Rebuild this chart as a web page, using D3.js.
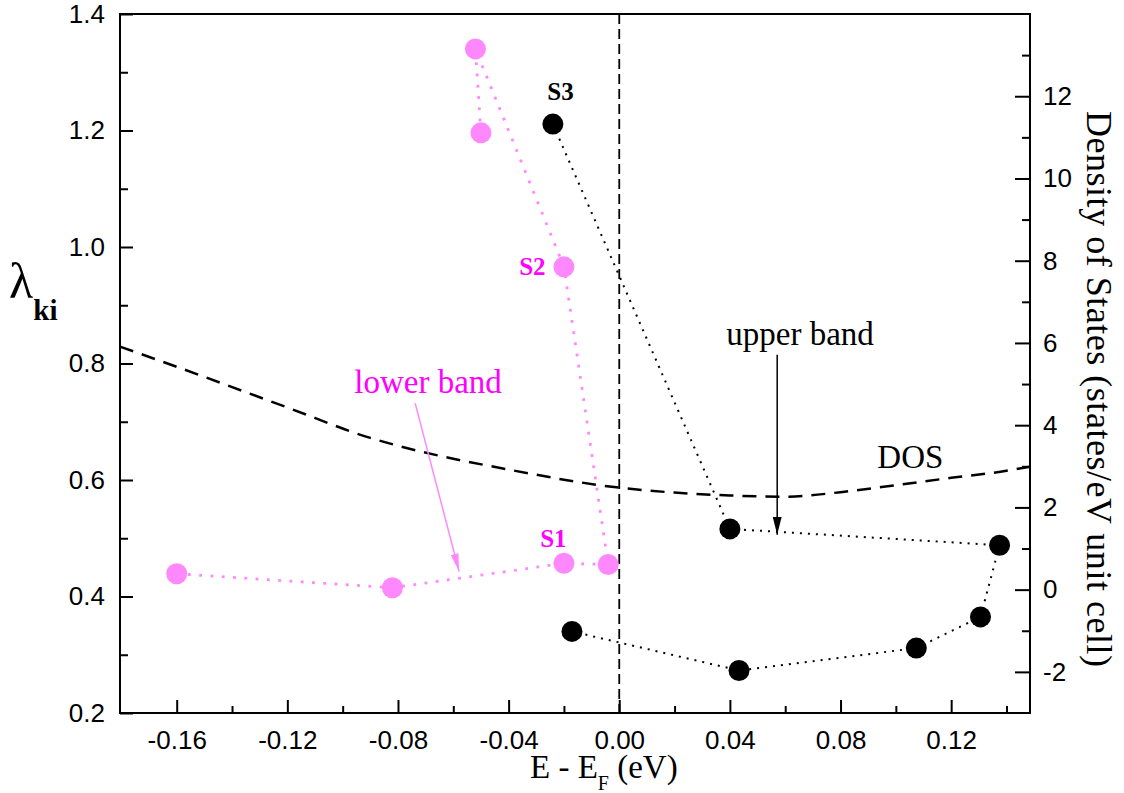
<!DOCTYPE html>
<html>
<head>
<meta charset="utf-8">
<script src="https://cdn.jsdelivr.net/npm/d3@7"></script>
<style>
  html, body { margin: 0; padding: 0; background: #fff; }
  svg { display: block; }
  .tick text { font-family: "Liberation Sans", Arial, sans-serif; font-size: 26px; fill: #000; }
  .serif { font-family: "Liberation Serif", "Times New Roman", serif; }
</style>
</head>
<body>
<svg id="chart" width="1124" height="793"></svg>
<script>
// ---------------- data ----------------
// lower band (pink) points, in path order
const lowerE = [-0.160, -0.082, -0.020, -0.004, -0.020, -0.052, -0.050];
const lowerLambda = [0.439, 0.415, 0.457, 0.455, 0.966, 1.340, 1.196];
// upper band (black) points, in path order
const upperE = [-0.024, 0.040, 0.1375, 0.1306, 0.1074, 0.0433, -0.0171];
const upperLambda = [1.211, 0.516, 0.488, 0.365, 0.3115, 0.273, 0.340];
// density of states curve (right axis)
const dosE = [-0.1805, -0.16, -0.12, -0.09, -0.08, -0.04, 0.00, 0.02, 0.04, 0.06, 0.08, 0.10, 0.12, 0.14, 0.1485];
const dosValue = [5.91, 5.42, 4.43, 3.69, 3.50, 2.92, 2.48, 2.36, 2.29, 2.26, 2.37, 2.54, 2.72, 2.89, 2.99];
// ticks
const xMajorTicks = [-0.16, -0.12, -0.08, -0.04, 0.00, 0.04, 0.08, 0.12];
const xMinorTicks = [-0.14, -0.10, -0.06, -0.02, 0.02, 0.06, 0.10, 0.14];
const yLeftMajorTicks = [0.2, 0.4, 0.6, 0.8, 1.0, 1.2, 1.4];
const yLeftMinorTicks = [0.3, 0.5, 0.7, 0.9, 1.1, 1.3];
const yRightMajorTicks = [-2, 0, 2, 4, 6, 8, 10, 12];
const yRightMinorTicks = [-1, 1, 3, 5, 7, 9, 11, 13];

// ---------------- layout ----------------
const svg = d3.select("#chart");
const L = 120, R = 1030, T = 14, B = 713;
const x = d3.scaleLinear().domain([-0.1805, 0.1485]).range([L, R]);
const yL = d3.scaleLinear().domain([0.2, 1.4]).range([B, T]);
const yR = d3.scaleLinear().domain([-3, 14]).range([B, T]);

const PINK = "#ff88ff", MAGENTA = "#ff00ff";

// defs: arrowheads
const defs = svg.append("defs");
defs.append("marker").attr("id", "arrPink").attr("viewBox", "0 -5 18 10")
  .attr("refX", 18).attr("refY", 0).attr("markerWidth", 18).attr("markerHeight", 10)
  .attr("markerUnits", "userSpaceOnUse").attr("orient", "auto")
  .append("path").attr("d", "M0,-4L18,0L0,4Z").attr("fill", PINK);
defs.append("marker").attr("id", "arrBlack").attr("viewBox", "0 -5 18 10")
  .attr("refX", 18).attr("refY", 0).attr("markerWidth", 18).attr("markerHeight", 10)
  .attr("markerUnits", "userSpaceOnUse").attr("orient", "auto")
  .append("path").attr("d", "M0,-4.5L18,0L0,4.5Z").attr("fill", "#000");

// ---------------- axes ----------------
function styleAxis(g) {
  g.select(".domain").remove();
  g.selectAll(".tick line").attr("stroke", "#000").attr("stroke-width", 2);
}
// bottom
svg.append("g").attr("transform", `translate(0,${B})`)
  .call(d3.axisBottom(x).tickValues(xMajorTicks).tickSize(-13).tickPadding(18)
    .tickFormat(d => d.toFixed(2)))
  .call(styleAxis);
svg.append("g").attr("transform", `translate(0,${B})`)
  .call(d3.axisBottom(x).tickValues(xMinorTicks).tickSize(-7).tickFormat(""))
  .call(styleAxis);
// left
svg.append("g").attr("transform", `translate(${L},0)`)
  .call(d3.axisLeft(yL).tickValues(yLeftMajorTicks).tickSize(-13).tickPadding(15)
    .tickFormat(d => d.toFixed(1)))
  .call(styleAxis);
svg.append("g").attr("transform", `translate(${L},0)`)
  .call(d3.axisLeft(yL).tickValues(yLeftMinorTicks).tickSize(-8).tickFormat(""))
  .call(styleAxis);
// right
svg.append("g").attr("transform", `translate(${R},0)`)
  .call(d3.axisRight(yR).tickValues(yRightMajorTicks).tickSize(-15).tickPadding(13)
    .tickFormat(d => String(d)))
  .call(styleAxis);
svg.append("g").attr("transform", `translate(${R},0)`)
  .call(d3.axisRight(yR).tickValues(yRightMinorTicks).tickSize(-8).tickFormat(""))
  .call(styleAxis);

// frame
svg.append("rect").attr("x", L).attr("y", T).attr("width", R - L).attr("height", B - T)
  .attr("fill", "none").attr("stroke", "#000").attr("stroke-width", 2);

// vertical dashed line at E = EF
svg.append("line").attr("x1", x(0)).attr("x2", x(0)).attr("y1", T).attr("y2", B)
  .attr("stroke", "#000").attr("stroke-width", 1.8).attr("stroke-dasharray", "10,5");

// DOS curve
const dosData = dosE.map((e, i) => [e, dosValue[i]]);
svg.append("path").datum(dosData)
  .attr("d", d3.line().x(d => x(d[0])).y(d => yR(d[1])).curve(d3.curveMonotoneX))
  .attr("fill", "none").attr("stroke", "#000").attr("stroke-width", 2.5)
  .attr("stroke-dasharray", "14,9");

// lower band
const lowerData = lowerE.map((e, i) => [e, lowerLambda[i]]);
svg.append("path").datum(lowerData)
  .attr("d", d3.line().x(d => x(d[0])).y(d => yL(d[1])))
  .attr("fill", "none").attr("stroke", PINK).attr("stroke-width", 2.8)
  .attr("stroke-dasharray", "2.8,8.5");
// upper band
const upperData = upperE.map((e, i) => [e, upperLambda[i]]);
svg.append("path").datum(upperData)
  .attr("d", d3.line().x(d => x(d[0])).y(d => yL(d[1])))
  .attr("fill", "none").attr("stroke", "#000").attr("stroke-width", 2)
  .attr("stroke-dasharray", "2,6");

svg.append("g").selectAll("circle").data(lowerData).join("circle")
  .attr("cx", d => x(d[0])).attr("cy", d => yL(d[1])).attr("r", 10.5).attr("fill", PINK);
svg.append("g").selectAll("circle").data(upperData).join("circle")
  .attr("cx", d => x(d[0])).attr("cy", d => yL(d[1])).attr("r", 10.5).attr("fill", "#000");

// arrows (data coordinates)
svg.append("line")
  .attr("x1", x(-0.0738)).attr("y1", yL(0.732)).attr("x2", x(-0.0579)).attr("y2", yL(0.443))
  .attr("stroke", PINK).attr("stroke-width", 1.5).attr("marker-end", "url(#arrPink)");
svg.append("line")
  .attr("x1", x(0.0571)).attr("y1", yL(0.815)).attr("x2", x(0.0571)).attr("y2", yL(0.506))
  .attr("stroke", "#000").attr("stroke-width", 1.5).attr("marker-end", "url(#arrBlack)");

// annotations
const notes = [
  { t: "S3", e: -0.026, v: 1.252, c: "#000", w: "bold", s: 25 },
  { t: "S2", e: -0.0362, v: 0.952, c: MAGENTA, w: "bold", s: 25 },
  { t: "S1", e: -0.0286, v: 0.485, c: MAGENTA, w: "bold", s: 25 },
  { t: "lower band", e: -0.0958, v: 0.749, c: MAGENTA, w: "normal", s: 33 },
  { t: "upper band", e: 0.0387, v: 0.832, c: "#000", w: "normal", s: 33 },
  { t: "DOS", e: 0.0933, v: 0.621, c: "#000", w: "normal", s: 33 }
];
svg.append("g").selectAll("text").data(notes).join("text")
  .attr("class", "serif")
  .attr("x", d => x(d.e)).attr("y", d => yL(d.v))
  .attr("fill", d => d.c).attr("font-weight", d => d.w).attr("font-size", d => d.s)
  .text(d => d.t);

// axis titles
const xt = svg.append("text").attr("class", "serif").attr("font-size", 33)
  .attr("x", 530).attr("y", 778);
xt.append("tspan").text("E - E");
xt.append("tspan").attr("font-size", 20).attr("dy", 12).text("F");
xt.append("tspan").attr("dy", -12).text(" (eV)");

const yt = svg.append("text").attr("class", "serif").attr("font-size", 50)
  .attr("x", 9).attr("y", 298);
yt.append("tspan").text("λ");
yt.append("tspan").attr("font-size", 29).attr("font-weight", "bold").attr("dy", 22).text("ki");

svg.append("text").attr("class", "serif").attr("font-size", 36)
  .attr("text-anchor", "middle")
  .attr("textLength", 556).attr("lengthAdjust", "spacing")
  .attr("transform", "translate(1087,389) rotate(90)")
  .text("Density of States (states/eV unit cell)");
</script>
</body>
</html>
